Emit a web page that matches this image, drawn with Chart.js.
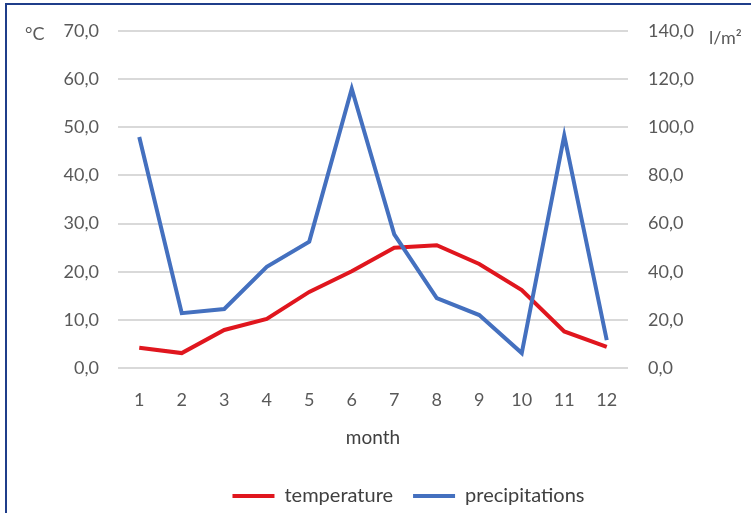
<!DOCTYPE html>
<html lang="en">
  <head>
    <meta charset="UTF-8" />
    <title>Temperature and precipitations</title>
    <script src="https://cdn.jsdelivr.net/npm/chart.js"></script>
    <style>
      body {
        margin: 0;
        width: 751px;
        height: 513px;
        overflow: hidden;
        background: white;
        position: relative;
        font-family: Lato, sans-serif;
      }

      .frame {
        position: absolute;
        left: 5px;
        top: 3px;
        width: 800px;
        height: 600px;
        border-top: 2px solid #1f3d8a;
        border-left: 2px solid #1f3d8a;
      }

      /* wider than the window so the legend sits a little right of centre, like the source */
      .box {
        position: absolute;
        left: 0;
        top: 0;
        width: 817px;
        height: 516px;
      }
    </style>
  </head>

  <body>
    <div class="frame"></div>
    <div class="box"><canvas id="lineChart"></canvas></div>

    <script>
      const months = ['1', '2', '3', '4', '5', '6', '7', '8', '9', '10', '11', '12'];
      const temperature = [4.2, 3.1, 7.9, 10.2, 15.8, 20.1, 25.0, 25.5, 21.6, 16.2, 7.6, 4.4];
      const precipitations = [96, 22.8, 24.5, 42, 52.5, 116, 55.5, 29, 22, 6.2, 96.5, 11.6];
      const tempTicks = { min: 0, max: 70, step: 10 };
      const precTicks = { min: 0, max: 140, step: 20 };

      const tickColor = '#595959';
      const tickFont = { family: 'Lato, sans-serif', size: 18 };
      const textFont = { family: 'Lato, sans-serif', size: 19 };
      const legendFont = { family: 'Lato, sans-serif', size: 20 };

      // comma decimals like the original
      const fmt = v => v.toFixed(1).replace('.', ',');

      const unitLabels = {
        id: 'unitLabels',
        afterDraw(chart) {
          const { ctx, chartArea } = chart;
          ctx.save();
          ctx.fillStyle = tickColor;
          ctx.font = '18px Lato, sans-serif';
          ctx.textBaseline = 'middle';
          ctx.textAlign = 'left';
          ctx.fillText('°C', chartArea.left - 93, chartArea.top + 3);
          ctx.fillText('l/m²', chartArea.right + 81, chartArea.top + 7);
          ctx.restore();
        }
      };

      new Chart(document.getElementById('lineChart'), {
        type: 'line',
        data: {
          labels: months,
          datasets: [{
            label: 'temperature',
            data: temperature,
            yAxisID: 'y',
            borderColor: '#e0161e',
            backgroundColor: '#e0161e',
            borderWidth: 4,
            pointRadius: 0,
            tension: 0,
            order: 2
          }, {
            label: 'precipitations',
            data: precipitations,
            yAxisID: 'y1',
            borderColor: '#4470bf',
            backgroundColor: '#4470bf',
            borderWidth: 4,
            pointRadius: 0,
            tension: 0,
            order: 1
          }]
        },
        plugins: [unitLabels],
        options: {
          responsive: true,
          maintainAspectRatio: false,
          animation: false,
          layout: { padding: { top: 31, bottom: 0, left: 0, right: 0 } },
          plugins: {
            tooltip: { enabled: false },
            legend: {
              position: 'bottom',
              labels: {
                usePointStyle: true,
                pointStyle: 'line',
                pointStyleWidth: 42,
                color: '#404040',
                font: legendFont,
                padding: 20,
                sort: (a, b) => a.datasetIndex - b.datasetIndex
              }
            }
          },
          scales: {
            x: {
              offset: true,
              grid: { display: false },
              border: { display: false },
              ticks: { color: tickColor, font: tickFont, padding: 13, maxRotation: 0 },
              title: {
                display: true,
                text: 'month',
                color: '#404040',
                font: textFont,
                padding: { top: 10, bottom: 17 }
              },
              afterFit: s => { s.height = 98; }
            },
            y: {
              position: 'left',
              min: tempTicks.min,
              max: tempTicks.max,
              border: { display: false },
              grid: { color: '#d9d9d9', lineWidth: 2, drawTicks: false },
              ticks: { stepSize: tempTicks.step, color: tickColor, font: tickFont, padding: 19, callback: fmt },
              afterFit: s => { s.width = 118; }
            },
            y1: {
              position: 'right',
              min: precTicks.min,
              max: precTicks.max,
              border: { display: false },
              grid: { display: false, drawTicks: false },
              ticks: { stepSize: precTicks.step, color: tickColor, font: tickFont, padding: 20, callback: fmt },
              afterFit: s => { s.width = 189; }
            }
          }
        }
      });
    </script>
  </body>
</html>
